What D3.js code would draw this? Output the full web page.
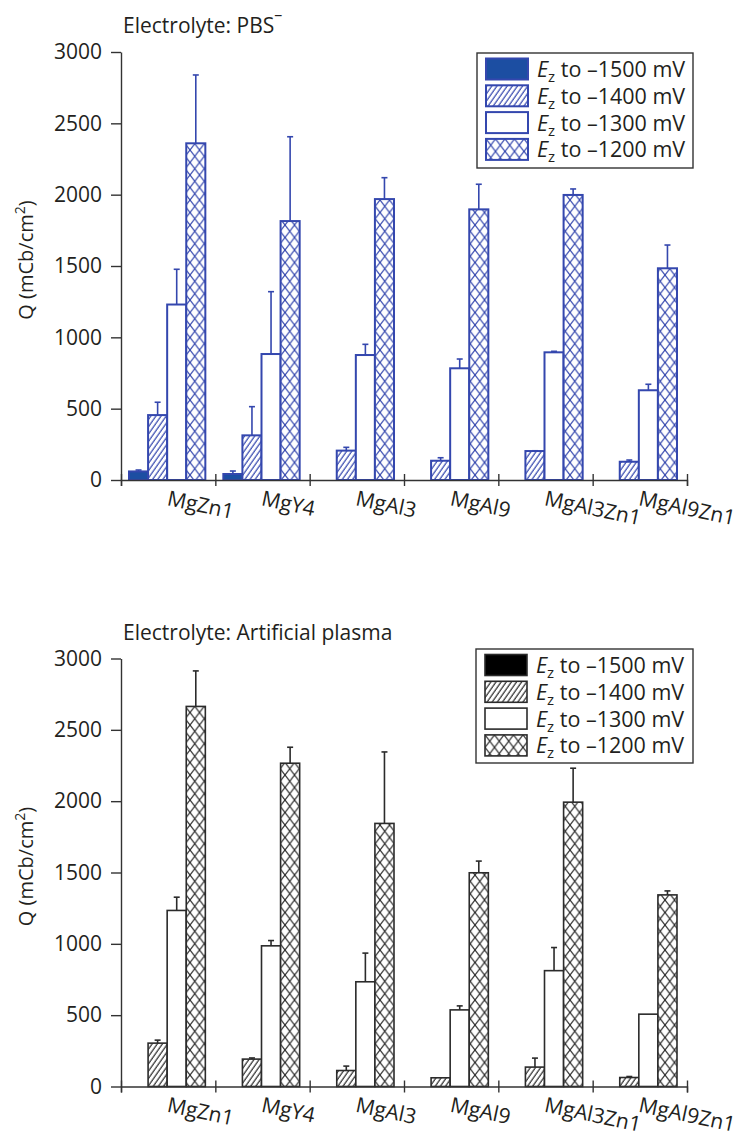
<!DOCTYPE html>
<html>
<head>
<meta charset="utf-8">
<script src="https://cdn.jsdelivr.net/npm/d3@7"></script>
<style>
  body { margin: 0; background: #fff; }
  svg { display: block; font-family: "Open Sans", "Noto Sans", sans-serif; }
</style>
</head>
<body>
<div id="chart"></div>
<script>
const alloys = ["MgZn1", "MgY4", "MgAl3", "MgAl9", "MgAl3Zn1", "MgAl9Zn1"];
const potentials = ["–1500", "–1400", "–1300", "–1200"];
const yTicks = [0, 500, 1000, 1500, 2000, 2500, 3000];

// PBS electrolyte (mean, sd) per potential
const pbs1500 = [60, 42, 0, 0, 0, 0];
const pbs1500Sd = [10, 21, 0, 0, 0, 0];
const pbs1400 = [455, 313, 206, 135, 203, 128];
const pbs1400Sd = [90, 201, 23, 21, 2, 12];
const pbs1300 = [1230, 883, 876, 783, 895, 629];
const pbs1300Sd = [247, 437, 75, 65, 7, 42];
const pbs1200 = [2360, 1815, 1969, 1897, 1998, 1484];
const pbs1200Sd = [479, 591, 150, 176, 42, 163];

// artificial plasma
const pl1500 = [0, 0, 0, 0, 0, 0];
const pl1500Sd = [0, 0, 0, 0, 0, 0];
const pl1400 = [304, 192, 112, 61, 136, 63];
const pl1400Sd = [21, 8, 31, 0, 63, 7];
const pl1300 = [1234, 986, 734, 537, 812, 507];
const pl1300Sd = [93, 37, 201, 28, 162, 0];
const pl1200 = [2664, 2266, 1844, 1498, 1993, 1343];
const pl1200Sd = [249, 112, 501, 82, 238, 28];

const width = 742, height = 1138;
const svg = d3.select("#chart").append("svg")
    .attr("width", width)
    .attr("height", height);
svg.append("rect").attr("width", width).attr("height", height).attr("fill", "#fff");

const defs = svg.append("defs");

function makePatterns(id, color) {
    const h = defs.append("pattern")
        .attr("id", "hatch-" + id)
        .attr("patternUnits", "userSpaceOnUse")
        .attr("width", 4.2).attr("height", 10)
        .attr("patternTransform", "rotate(35)");
    h.append("rect").attr("width", 4.2).attr("height", 10).attr("fill", "#fff");
    h.append("line").attr("x1", 1).attr("x2", 1).attr("y1", 0).attr("y2", 10)
        .attr("stroke", color).attr("stroke-width", 1.2);

    const cw = 9.5, ch = 12.5;
    const c = defs.append("pattern")
        .attr("id", "cross-" + id)
        .attr("patternUnits", "userSpaceOnUse")
        .attr("width", cw).attr("height", ch);
    c.append("rect").attr("width", cw).attr("height", ch).attr("fill", "#fff");
    c.append("path").attr("d", `M0,0L${cw},${ch}M${cw},0L0,${ch}`)
        .attr("stroke", color).attr("stroke-width", 1.2).attr("fill", "none");
}

function drawPanel(cfg) {
    const {id, title, titleSup, color, solid, series, sds, top, bottom, legendBox, strokeW} = cfg;
    makePatterns(id, color);
    const fills = [solid, `url(#hatch-${id})`, "#fff", `url(#cross-${id})`];

    const g = svg.append("g").attr("class", "panel-" + id);

    const y = d3.scaleLinear().domain([0, 3000]).range([bottom, top]);
    const x = d3.scaleBand().domain(alloys).range([121, 687]);
    const xInner = d3.scaleBand().domain(potentials).range([8, x.bandwidth() - 10]);
    const xEdge = d3.scaleLinear().domain([0, alloys.length]).range([121, 687]);

    // title
    const t = g.append("text")
        .attr("x", 123).attr("y", top - 19)
        .attr("font-size", 21).attr("fill", "#231f20")
        .text(title);
    if (titleSup) {
        t.append("tspan").attr("dy", -13).attr("font-size", 16).text(titleSup);
    }

    // y axis
    const yAxis = g.append("g")
        .attr("transform", "translate(121,0)")
        .call(d3.axisLeft(y).tickValues(yTicks).tickFormat(d3.format("d"))
            .tickSize(10).tickSizeOuter(0).tickPadding(9));
    yAxis.selectAll("path, line").attr("stroke", "#333").attr("stroke-width", 1.4);
    yAxis.selectAll("text").attr("font-size", 21).attr("fill", "#231f20")
        .attr("font-family", "'Open Sans', sans-serif");

    const yl = g.append("text")
        .attr("transform", `translate(33,${(top + bottom) / 2 - 6}) rotate(-90)`)
        .attr("text-anchor", "middle")
        .attr("font-size", 20).attr("fill", "#231f20")
        .text("Q (mCb/cm");
    yl.append("tspan").attr("dy", -8).attr("font-size", 14).text("2");
    yl.append("tspan").attr("dy", 8).text(")");

    // bars
    potentials.forEach((p, si) => {
        const vals = series[si];
        const errs = sds[si];
        const rows = alloys.map((a, i) => ({alloy: a, v: vals[i], sd: errs[i]})).filter(d => d.v > 0);

        g.selectAll(".bar-" + si)
            .data(rows)
            .join("rect")
            .attr("class", "bar-" + si)
            .attr("x", d => x(d.alloy) + xInner(p))
            .attr("y", d => y(d.v))
            .attr("width", xInner.bandwidth())
            .attr("height", d => y(0) - y(d.v))
            .attr("fill", fills[si])
            .attr("stroke", color)
            .attr("stroke-width", strokeW);

        const eb = g.selectAll(".err-" + si)
            .data(rows.filter(d => d.sd > 0))
            .join("g")
            .attr("class", "err-" + si)
            .attr("transform", d => `translate(${x(d.alloy) + xInner(p) + xInner.bandwidth() / 2},0)`);
        eb.append("line")
            .attr("y1", d => y(d.v)).attr("y2", d => y(d.v + d.sd))
            .attr("stroke", color).attr("stroke-width", 1.6);
        eb.append("line")
            .attr("x1", -3).attr("x2", 3)
            .attr("y1", d => y(d.v + d.sd)).attr("y2", d => y(d.v + d.sd))
            .attr("stroke", color).attr("stroke-width", 1.6);
    });

    // x axis with group separators
    const xAxis = g.append("g")
        .attr("transform", `translate(0,${bottom})`)
        .call(d3.axisBottom(xEdge).tickValues(d3.range(alloys.length + 1)).tickFormat("").tickSizeOuter(0).tickSize(6));
    xAxis.selectAll("path, line").attr("stroke", "#333").attr("stroke-width", 1.4);
    xAxis.selectAll(".tick line").attr("y1", -6).attr("y2", 6);

    g.selectAll(".alloy-label")
        .data(alloys)
        .join("text")
        .attr("class", "alloy-label")
        .attr("transform", d => `translate(${x(d) + x.bandwidth() / 2 - 2},${bottom + 25}) rotate(12)`)
        .attr("font-size", 21).attr("fill", "#231f20")
        .text(d => d);

    // legend
    const [lx, ly, lw, lh] = legendBox;
    const lg = g.append("g").attr("transform", `translate(${lx},${ly})`);
    lg.append("rect").attr("width", lw).attr("height", lh)
        .attr("fill", "#fff").attr("stroke", "#333").attr("stroke-width", 1.4);
    const pitch = 26.8;
    const items = lg.selectAll(".leg")
        .data(potentials)
        .join("g")
        .attr("class", "leg")
        .attr("transform", (d, i) => `translate(9,${5.5 + i * pitch})`);
    items.append("rect")
        .attr("width", 42).attr("height", 21)
        .attr("fill", (d, i) => fills[i])
        .attr("stroke", color).attr("stroke-width", strokeW);
    const lt = items.append("text")
        .attr("x", 51).attr("y", 18.5)
        .attr("font-size", 21.5).attr("fill", "#231f20");
    lt.append("tspan").attr("font-style", "italic").text("E");
    lt.append("tspan").attr("dy", 5).attr("font-size", 15).text("z");
    lt.append("tspan").attr("dy", -5).text(d => ` to ${d} mV`);
}

drawPanel({
    id: "pbs",
    title: "Electrolyte: PBS",
    titleSup: "–",
    color: "#3447ae",
    solid: "#1c4ea2",
    series: [pbs1500, pbs1400, pbs1300, pbs1200],
    sds: [pbs1500Sd, pbs1400Sd, pbs1300Sd, pbs1200Sd],
    top: 52,
    bottom: 480,
    legendBox: [477, 53, 216, 115],
    strokeW: 2
});

drawPanel({
    id: "plasma",
    title: "Electrolyte: Artificial plasma",
    titleSup: null,
    color: "#2b2b2b",
    solid: "#000",
    series: [pl1500, pl1400, pl1300, pl1200],
    sds: [pl1500Sd, pl1400Sd, pl1300Sd, pl1200Sd],
    top: 658.5,
    bottom: 1086.5,
    legendBox: [476, 649, 217, 114],
    strokeW: 1.6
});
</script>
</body>
</html>
